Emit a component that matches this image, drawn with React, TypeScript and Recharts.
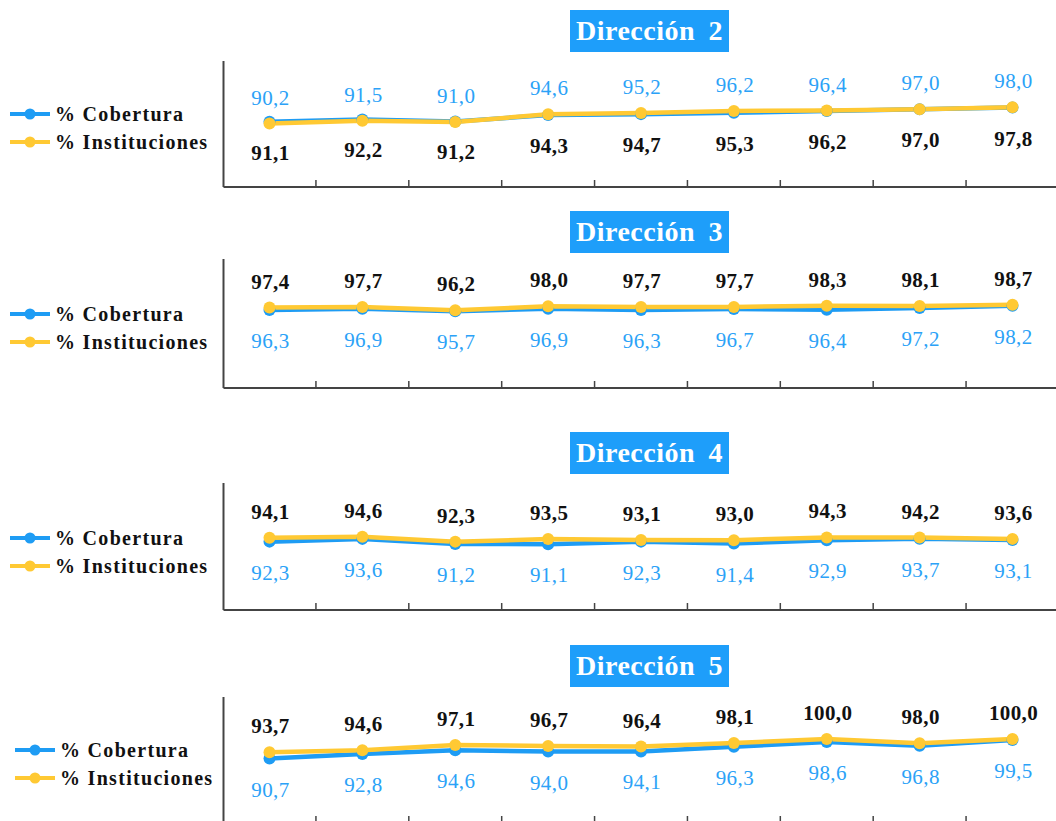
import React from "react";
import { LabelList, Line, LineChart, XAxis, YAxis } from "recharts";

// periods are not labelled on the original axis
const periods = ["1", "2", "3", "4", "5", "6", "7", "8", "9"];

const cobertura2 = [91.1, 92.2, 91.2, 94.3, 94.7, 95.3, 96.2, 97.0, 97.8];
const instituciones2 = [90.2, 91.5, 91.0, 94.6, 95.2, 96.2, 96.4, 97.0, 98.0];

const cobertura3 = [96.3, 96.9, 95.7, 96.9, 96.3, 96.7, 96.4, 97.2, 98.2];
const instituciones3 = [97.4, 97.7, 96.2, 98.0, 97.7, 97.7, 98.3, 98.1, 98.7];

const cobertura4 = [92.3, 93.6, 91.2, 91.1, 92.3, 91.4, 92.9, 93.7, 93.1];
const instituciones4 = [94.1, 94.6, 92.3, 93.5, 93.1, 93.0, 94.3, 94.2, 93.6];

const cobertura5 = [90.7, 92.8, 94.6, 94.0, 94.1, 96.3, 98.6, 96.8, 99.5];
const instituciones5 = [93.7, 94.6, 97.1, 96.7, 96.4, 98.1, 100.0, 98.0, 100.0];

const BLUE = "#1e9cf4";
const YELLOW = "#ffc933";
const LABEL_BLUE = "#2ba2f7";
const AXIS = "#444";
const SERIF = "'Liberation Serif', 'Times New Roman', serif";
const PAD = 46;

const fmt = (v: number) => v.toFixed(1).replace(".", ",");

const makeLabel =
  (above: boolean, color: string, bold: boolean) => (props: any) => {
    const x = props.x ?? props.viewBox?.x;
    const y = props.y ?? props.viewBox?.y;
    if (x == null || y == null) return null;
    return (
      <text
        x={x + 1}
        y={above ? y - 26 : y + 31}
        textAnchor="middle"
        dominantBaseline="central"
        fontFamily={SERIF}
        fontSize={21}
        fontWeight={bold ? 700 : 400}
        fill={color}
        letterSpacing={0.4}
      >
        {fmt(Number(props.value))}
      </text>
    );
  };

// Excel-style tick marks: between categories, pointing into the plot
const BetweenTick = (props: any) => {
  const { x, y, index, visibleTicksCount, width } = props;
  if (index >= visibleTicksCount - 1) return null;
  const half = (width - 2 * PAD) / (2 * (visibleTicksCount - 1));
  const tx = x + half;
  return <line x1={tx} x2={tx} y1={y} y2={y - 7} stroke={AXIS} strokeWidth={1.5} />;
};

type PanelProps = {
  title: string;
  cobertura: number[];
  instituciones: number[];
  blueAbove: boolean;
  plotTop: number;
  plotBottom: number;
  titleTop: number;
  legendX: number;
  legendY: number;
};

const Panel = ({
  title,
  cobertura,
  instituciones,
  blueAbove,
  plotTop,
  plotBottom,
  titleTop,
  legendX,
  legendY,
}: PanelProps) => {
  const data = periods.map((p, i) => ({
    periodo: p,
    cobertura: cobertura[i],
    instituciones: instituciones[i],
  }));
  const mTop = 10;
  const mBottom = 4;
  const height = plotBottom - plotTop + mTop + 1 + mBottom;
  // instituciones labels always sit above, cobertura below; the colours swap in the first panel
  const instLabel = blueAbove
    ? makeLabel(true, LABEL_BLUE, false)
    : makeLabel(true, "#111", true);
  const cobLabel = blueAbove
    ? makeLabel(false, "#111", true)
    : makeLabel(false, LABEL_BLUE, false);
  return (
    <>
      <div
        style={{
          position: "absolute",
          left: 570,
          top: titleTop,
          width: 159,
          height: 42,
          background: "#1e9efa",
          color: "#fff",
          fontFamily: SERIF,
          fontWeight: 700,
          fontSize: 28,
          letterSpacing: 0.5,
          wordSpacing: 6,
          display: "flex",
          alignItems: "center",
          justifyContent: "center",
        }}
      >
        {title}
      </div>
      {[
        { name: "% Cobertura", color: BLUE },
        { name: "% Instituciones", color: YELLOW },
      ].map((item, i) => (
        <div
          key={item.name}
          style={{
            position: "absolute",
            left: legendX,
            top: legendY + i * 28 - 14,
            height: 28,
            display: "flex",
            alignItems: "center",
            fontFamily: SERIF,
            fontWeight: 700,
            fontSize: 20,
            letterSpacing: 1.3,
            color: "#111",
            whiteSpace: "nowrap",
          }}
        >
          <svg width={43} height={14} style={{ marginRight: 2 }}>
            <line x1={0} x2={40} y1={7} y2={7} stroke={item.color} strokeWidth={4} />
            <circle cx={20} cy={7} r={5.5} fill={item.color} />
          </svg>
          {item.name}
        </div>
      ))}
      <div style={{ position: "absolute", left: 0, top: plotTop - mTop }}>
        <LineChart
          width={1070}
          height={height}
          data={data}
          margin={{ top: mTop, right: 11.5, bottom: mBottom, left: 222.5 }}
        >
          <XAxis
            dataKey="periodo"
            padding={{ left: PAD, right: PAD }}
            interval={0}
            height={1}
            tickSize={0}
            tickMargin={0}
            tickLine={false}
            tick={<BetweenTick />}
            axisLine={{ stroke: AXIS, strokeWidth: 2 }}
          />
          <YAxis
            domain={[60, 120]}
            width={1}
            tick={false}
            tickLine={false}
            axisLine={{ stroke: AXIS, strokeWidth: 2 }}
          />
          <Line
            dataKey="cobertura"
            stroke={BLUE}
            strokeWidth={4.5}
            dot={{ r: 6, fill: BLUE, stroke: BLUE, strokeWidth: 0 }}
            activeDot={false}
            isAnimationActive={false}
          >
            <LabelList dataKey="cobertura" content={cobLabel} />
          </Line>
          <Line
            dataKey="instituciones"
            stroke={YELLOW}
            strokeWidth={4.5}
            dot={{ r: 6, fill: YELLOW, stroke: YELLOW, strokeWidth: 0 }}
            activeDot={false}
            isAnimationActive={false}
          >
            <LabelList dataKey="instituciones" content={instLabel} />
          </Line>
        </LineChart>
      </div>
    </>
  );
};

export default function App() {
  return (
    <div
      style={{
        position: "fixed",
        left: 0,
        top: 0,
        width: 1056,
        height: 821,
        overflow: "hidden",
        background: "#fff",
      }}
    >
      <Panel
        title="Dirección 2"
        cobertura={cobertura2}
        instituciones={instituciones2}
        blueAbove={true}
        plotTop={61}
        plotBottom={187}
        titleTop={10}
        legendX={10}
        legendY={114}
      />
      <Panel
        title="Dirección 3"
        cobertura={cobertura3}
        instituciones={instituciones3}
        blueAbove={false}
        plotTop={259}
        plotBottom={388}
        titleTop={211}
        legendX={10}
        legendY={314}
      />
      <Panel
        title="Dirección 4"
        cobertura={cobertura4}
        instituciones={instituciones4}
        blueAbove={false}
        plotTop={483}
        plotBottom={610}
        titleTop={432}
        legendX={10}
        legendY={538}
      />
      <Panel
        title="Dirección 5"
        cobertura={cobertura5}
        instituciones={instituciones5}
        blueAbove={false}
        plotTop={697}
        plotBottom={823}
        titleTop={645}
        legendX={15}
        legendY={750}
      />
    </div>
  );
}
